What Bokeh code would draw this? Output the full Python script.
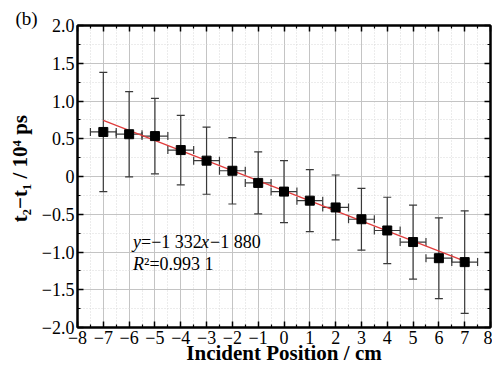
from bokeh.plotting import figure
from bokeh.models import (ColumnDataSource, Whisker, TeeHead, LinearAxis, FixedTicker,
                          Range1d, Label, Title)
from bokeh.embed import file_html
from bokeh.resources import INLINE

# data (units of 10^4 ps)
pos = [-7, -6, -5, -4, -3, -2, -1, 0, 1, 2, 3, 4, 5, 6, 7]
dt = [0.59, 0.56, 0.535, 0.35, 0.21, 0.076, -0.085, -0.20, -0.32, -0.41,
      -0.566, -0.715, -0.868, -1.082, -1.134]
yerr = [0.79, 0.565, 0.50, 0.46, 0.445, 0.44, 0.41, 0.41, 0.41, 0.43,
        0.41, 0.44, 0.49, 0.535, 0.68]
xerr = [0.5] * 15
slope = -0.1332
intercept = -0.188
fit_x = [-7, 7]

x_ticks = list(range(-8, 9))
y_ticks = [-2.0, -1.5, -1.0, -0.5, 0.0, 0.5, 1.0, 1.5, 2.0]

SERIF = "Liberation Serif"

def fmt(v):
    if v == 0:
        return "0"
    s = ("%d" % abs(v)) if isinstance(v, int) else ("%.1f" % abs(v))
    return ("\u2212" + s) if v < 0 else s

p = figure(width=492, height=367, output_backend="svg", toolbar_location=None,
           x_range=Range1d(-8, 8), y_range=Range1d(-2, 2),
           min_border_left=77, min_border_right=2, min_border_top=25, min_border_bottom=37)
p.background_fill_color = "white"
p.border_fill_color = "white"
p.outline_line_color = "black"
p.outline_line_width = 2

# grids
p.xgrid.ticker = FixedTicker(ticks=x_ticks, minor_ticks=[t + 0.5 for t in x_ticks[:-1]])
p.ygrid.ticker = FixedTicker(ticks=y_ticks, minor_ticks=[t + 0.25 for t in y_ticks[:-1]])
for g in (p.xgrid, p.ygrid):
    g.grid_line_color = "#c4c4c4"
    g.grid_line_width = 1
    g.minor_grid_line_color = "#d8d8d8"
    g.minor_grid_line_dash = "1 2"
    g.minor_grid_line_width = 1

def style_axis(ax, ticks, minor, labels=True, overrides=None):
    ax.ticker = FixedTicker(ticks=ticks, minor_ticks=minor)
    ax.axis_line_color = "black"
    ax.axis_line_width = 2
    ax.major_tick_in = 6
    ax.major_tick_out = 0
    ax.minor_tick_in = 3
    ax.minor_tick_out = 0
    ax.major_tick_line_width = 1.5
    ax.minor_tick_line_width = 1.2
    ax.major_tick_line_color = "black"
    ax.minor_tick_line_color = "black"
    if labels:
        ax.major_label_text_font = SERIF
        ax.major_label_text_font_size = "18px"
        ax.major_label_text_color = "black"
        ax.major_label_overrides = overrides
        ax.major_label_standoff = 3
    else:
        ax.major_label_text_font_size = "0px"
        ax.major_label_standoff = 0
        ax.major_label_overrides = {t: "" for t in ticks}

xminor = [t + 0.5 for t in x_ticks[:-1]]
yminor = [t + 0.25 for t in y_ticks[:-1]]
xo = {t: fmt(t) for t in x_ticks}
yo = {t: fmt(t) for t in y_ticks}

style_axis(p.xaxis[0], x_ticks, xminor, True, xo)
style_axis(p.yaxis[0], y_ticks, yminor, True, yo)

xa = p.xaxis[0]
xa.axis_label = "Incident Position / cm"
xa.axis_label_text_font = SERIF
xa.axis_label_text_font_style = "bold"
xa.axis_label_text_font_size = "21px"
xa.axis_label_text_color = "black"
xa.axis_label_standoff = -6

ya = p.yaxis[0]
ya.axis_label = "\u00a0\u00a0\u00a0t\u2082\u2212t\u2081 / 10\u2074 ps"
ya.axis_label_text_font = SERIF
ya.axis_label_text_font_style = "bold"
ya.axis_label_text_font_size = "21px"
ya.axis_label_text_color = "black"
ya.axis_label_standoff = 7

top = LinearAxis()
style_axis(top, x_ticks, xminor, False)
p.add_layout(top, "above")
right = LinearAxis()
style_axis(right, y_ticks, yminor, False)
p.add_layout(right, "right")

src = ColumnDataSource(dict(
    x=pos, y=dt,
    yl=[a - b for a, b in zip(dt, yerr)], yu=[a + b for a, b in zip(dt, yerr)],
    xl=[a - b for a, b in zip(pos, xerr)], xu=[a + b for a, b in zip(pos, xerr)],
))

ecol = "#3a3a3a"
wy = Whisker(source=src, base="x", lower="yl", upper="yu", dimension="height",
             line_color=ecol, line_width=1.2, level="underlay",
             upper_head=TeeHead(size=8, line_color=ecol, line_width=1.2),
             lower_head=TeeHead(size=8, line_color=ecol, line_width=1.2))
wx = Whisker(source=src, base="y", lower="xl", upper="xu", dimension="width",
             line_color=ecol, line_width=1.2, level="underlay",
             upper_head=TeeHead(size=8, line_color=ecol, line_width=1.2),
             lower_head=TeeHead(size=8, line_color=ecol, line_width=1.2))
p.add_layout(wy)
p.add_layout(wx)

fit_y = [slope * v + intercept for v in fit_x]
p.line(fit_x, fit_y, line_color="#e03c3c", line_width=1.3)

p.scatter("x", "y", source=src, marker="square", size=9, fill_color="black",
          line_color="black")

# equation text
lx, ly1, ly2 = -5.85, -0.87, -1.16
fs = "18px"
def lab(text, x, y, off, style="normal"):
    p.add_layout(Label(x=x, y=y, x_offset=off, text=text, text_font=SERIF,
                       text_font_size=fs, text_font_style=style,
                       text_baseline="middle", text_color="black"))
lab("y", lx, ly1, 0, "italic")
lab("=\u22121 332", lx, ly1, 8)
lab("x", lx, ly1, 68, "italic")
lab("\u22121 880", lx, ly1, 77)
lab("R", lx, ly2, 0, "italic")
lab("\u00b2=0.993 1", lx, ly2, 11)

# panel tag as a title
tag = Title(text="(b)", align="left", offset=-62, text_font=SERIF,
            text_font_size="19px", text_font_style="normal", text_color="black",
            standoff=-6, vertical_align="bottom")
p.add_layout(tag, "above")

open("out.html", "w").write(file_html(p, INLINE))
